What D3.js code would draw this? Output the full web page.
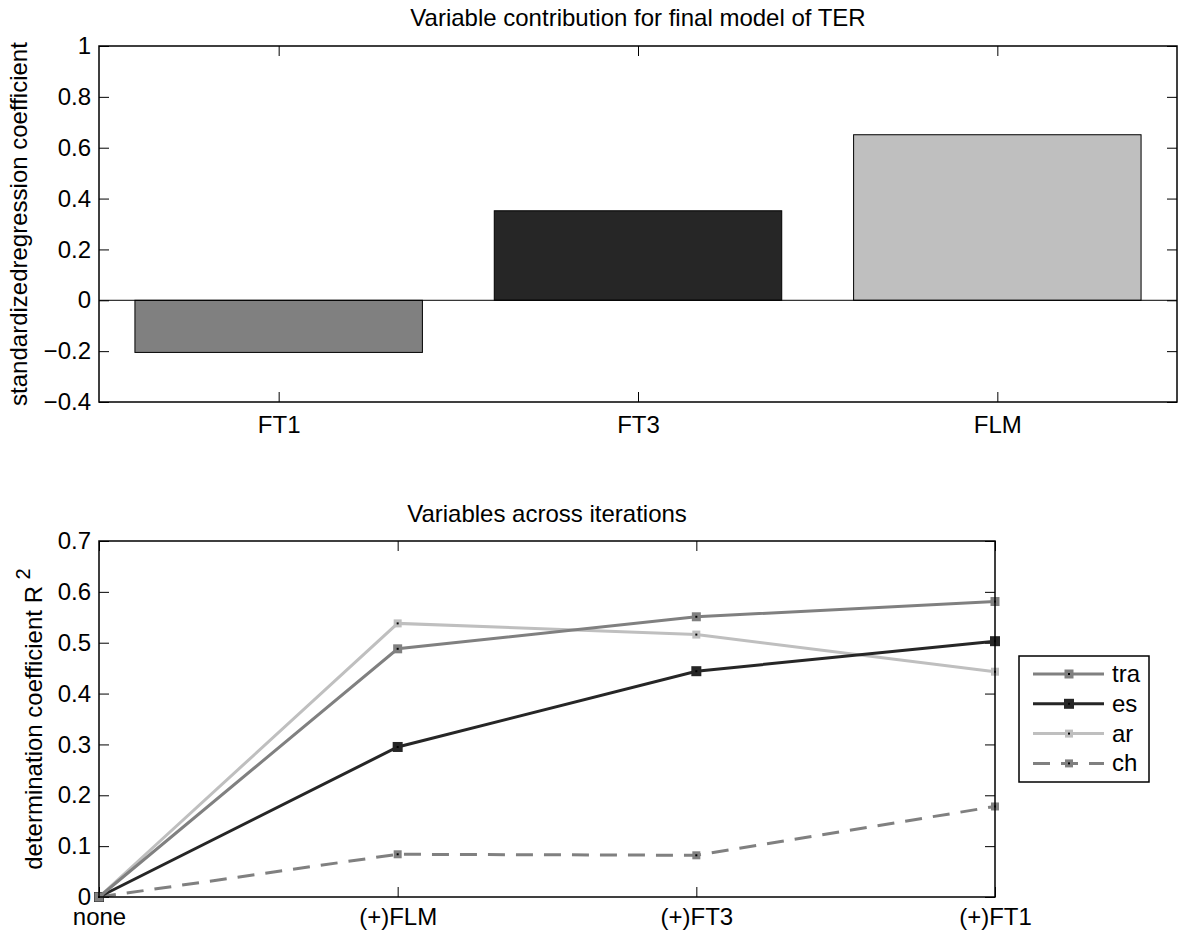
<!DOCTYPE html>
<html>
<head>
<meta charset="utf-8">
<script src="https://cdn.jsdelivr.net/npm/d3@7"></script>
<style>
  body { margin: 0; background: #fff; }
  text { font-family: "Liberation Sans", Arial, sans-serif; fill: #000; }
</style>
</head>
<body>
<svg id="chart" width="1178" height="932"></svg>
<script>
// top panel: standardized coefficients
const barCats = ["FT1", "FT3", "FLM"];
const barVals = [-0.205, 0.352, 0.651];
const barColors = ["#808080", "#262626", "#bfbfbf"];
const barTicks = [-0.4, -0.2, 0, 0.2, 0.4, 0.6, 0.8, 1];

// bottom panel: R^2 across iterations
const steps = ["none", "(+)FLM", "(+)FT3", "(+)FT1"];
const traVals = [0, 0.488, 0.551, 0.581];
const esVals = [0, 0.295, 0.444, 0.503];
const arVals = [0, 0.538, 0.516, 0.443];
const chVals = [0, 0.084, 0.082, 0.178];
const lineTicks = [0, 0.1, 0.2, 0.3, 0.4, 0.5, 0.6, 0.7];

const series = [
  { name: "tra", vals: traVals, color: "#808080", dash: null, ms: 9 },
  { name: "es", vals: esVals, color: "#262626", dash: null, ms: 10 },
  { name: "ar", vals: arVals, color: "#bfbfbf", dash: null, ms: 8 },
  { name: "ch", vals: chVals, color: "#808080", dash: "17 11", ms: 8 }
];

const FS = 24;
const svg = d3.select("#chart");
const fmt = d => d === 0 ? "0" : d3.format("")(d);

function frame(g, x0, x1, y0, y1) {
  g.append("rect")
    .attr("x", x0).attr("y", y0)
    .attr("width", x1 - x0).attr("height", y1 - y0)
    .attr("fill", "none").attr("stroke", "#000").attr("stroke-width", 1.5);
}

function styleAxis(sel, labels) {
  sel.select(".domain").remove();
  sel.selectAll(".tick line").attr("stroke", "#000").attr("stroke-width", 1);
  if (!labels) sel.selectAll(".tick text").remove();
  else sel.selectAll(".tick text").attr("font-size", FS).attr("fill", "#000");
}

// ---- top chart ----
const t = { left: 99, right: 1177, top: 46, bottom: 402 };
const xb = d3.scaleBand().domain(barCats).range([t.left, t.right])
  .paddingInner(0.2).paddingOuter(0.1);
const yb = d3.scaleLinear().domain([-0.4, 1]).range([t.bottom, t.top]);

const topG = svg.append("g");

topG.selectAll("rect.bar")
  .data(barVals)
  .join("rect")
  .attr("class", "bar")
  .attr("x", (d, i) => xb(barCats[i]))
  .attr("width", xb.bandwidth())
  .attr("y", d => yb(Math.max(0, d)))
  .attr("height", d => Math.abs(yb(d) - yb(0)))
  .attr("fill", (d, i) => barColors[i])
  .attr("stroke", "#000").attr("stroke-width", 1);

// baseline
topG.append("line")
  .attr("x1", t.left).attr("x2", t.right)
  .attr("y1", yb(0)).attr("y2", yb(0))
  .attr("stroke", "#000").attr("stroke-width", 1);

const xbc = d => xb(d) + xb.bandwidth() / 2;
const xbScale = d3.scalePoint().domain(barCats).range([xbc("FT1"), xbc("FLM")]);

topG.append("g").attr("transform", `translate(${t.left},0)`)
  .call(d3.axisLeft(yb).tickValues(barTicks).tickFormat(fmt).tickSizeInner(-10).tickSizeOuter(0).tickPadding(8))
  .call(s => styleAxis(s, true));
topG.append("g").attr("transform", `translate(${t.right},0)`)
  .call(d3.axisRight(yb).tickValues(barTicks).tickSizeInner(-10).tickSizeOuter(0))
  .call(s => styleAxis(s, false));
topG.append("g").attr("transform", `translate(0,${t.bottom})`)
  .call(d3.axisBottom(xbScale).tickSizeInner(-10).tickSizeOuter(0).tickPadding(14))
  .call(s => styleAxis(s, true));
topG.append("g").attr("transform", `translate(0,${t.top})`)
  .call(d3.axisTop(xbScale).tickSizeInner(-10).tickSizeOuter(0))
  .call(s => styleAxis(s, false));
frame(topG, t.left, t.right, t.top, t.bottom);

topG.append("text")
  .attr("x", (t.left + t.right) / 2).attr("y", 26)
  .attr("text-anchor", "middle").attr("font-size", FS)
  .text("Variable contribution for final model of TER");
topG.append("text")
  .attr("transform", `translate(27,${(t.top + t.bottom) / 2}) rotate(-90)`)
  .attr("text-anchor", "middle").attr("font-size", FS)
  .text("standardizedregression coefficient");

// ---- bottom chart ----
const b = { left: 99, right: 995, top: 541, bottom: 897 };
const xl = d3.scalePoint().domain(steps).range([b.left, b.right]);
const yl = d3.scaleLinear().domain([0, 0.7]).range([b.bottom, b.top]);

const botG = svg.append("g");

botG.append("g").attr("transform", `translate(${b.left},0)`)
  .call(d3.axisLeft(yl).tickValues(lineTicks).tickFormat(fmt).tickSizeInner(-10).tickSizeOuter(0).tickPadding(8))
  .call(s => styleAxis(s, true));
botG.append("g").attr("transform", `translate(${b.right},0)`)
  .call(d3.axisRight(yl).tickValues(lineTicks).tickSizeInner(-10).tickSizeOuter(0))
  .call(s => styleAxis(s, false));
botG.append("g").attr("transform", `translate(0,${b.bottom})`)
  .call(d3.axisBottom(xl).tickSizeInner(-10).tickSizeOuter(0).tickPadding(11))
  .call(s => styleAxis(s, true));
botG.append("g").attr("transform", `translate(0,${b.top})`)
  .call(d3.axisTop(xl).tickSizeInner(-10).tickSizeOuter(0))
  .call(s => styleAxis(s, false));

const line = d3.line().x((d, i) => xl(steps[i])).y(d => yl(d));

// draw in reverse so tra sits on top like the reference
[...series].reverse().forEach(s => {
  botG.append("path")
    .datum(s.vals)
    .attr("fill", "none")
    .attr("stroke", s.color)
    .attr("stroke-width", 3)
    .attr("stroke-dasharray", s.dash)
    .attr("d", line);
  const m = botG.append("g").selectAll("g")
    .data(s.vals).join("g")
    .attr("transform", (d, i) => `translate(${xl(steps[i])},${yl(d)})`);
  m.append("rect")
    .attr("x", -s.ms / 2).attr("y", -s.ms / 2)
    .attr("width", s.ms).attr("height", s.ms)
    .attr("fill", s.color);
  m.append("rect")
    .attr("x", -1).attr("y", -1).attr("width", 2).attr("height", 2)
    .attr("fill", "#000");
});

frame(botG, b.left, b.right, b.top, b.bottom);

botG.append("text")
  .attr("x", (b.left + b.right) / 2).attr("y", 522)
  .attr("text-anchor", "middle").attr("font-size", FS)
  .text("Variables across iterations");
const yLab = botG.append("text")
  .attr("transform", `translate(42,${(b.top + b.bottom) / 2}) rotate(-90)`)
  .attr("text-anchor", "middle").attr("font-size", FS);
yLab.append("tspan").text("determination coefficient R ");
yLab.append("tspan").attr("dy", -12).attr("font-size", 20).text("2");

// legend
const lg = botG.append("g").attr("transform", "translate(1019,656)");
lg.append("rect")
  .attr("width", 130).attr("height", 126)
  .attr("fill", "#fff").attr("stroke", "#000").attr("stroke-width", 1.5);
series.forEach((s, i) => {
  const y = 18 + i * 29.8;
  const row = lg.append("g").attr("transform", `translate(0,${y})`);
  row.append("line")
    .attr("x1", 14).attr("x2", 85)
    .attr("stroke", s.color).attr("stroke-width", 3)
    .attr("stroke-dasharray", s.dash);
  row.append("rect")
    .attr("x", 50 - s.ms / 2).attr("y", -s.ms / 2)
    .attr("width", s.ms).attr("height", s.ms).attr("fill", s.color);
  row.append("rect")
    .attr("x", 49).attr("y", -1).attr("width", 2).attr("height", 2).attr("fill", "#000");
  row.append("text")
    .attr("x", 93).attr("y", 8).attr("font-size", FS)
    .text(s.name);
});
</script>
</body>
</html>
